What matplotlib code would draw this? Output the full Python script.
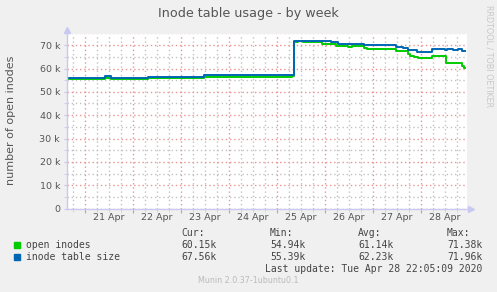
import pandas as pd
import numpy as np
import matplotlib
matplotlib.use('Agg')
import matplotlib.pyplot as plt
import matplotlib.dates as mdates
from matplotlib.ticker import MultipleLocator, FuncFormatter

# step changes
open_times = ['2020-04-20 14:30', '2020-04-21 10:00', '2020-04-21 13:00', '2020-04-22 07:30',
              '2020-04-23 11:30', '2020-04-25 07:30', '2020-04-25 08:30', '2020-04-25 10:20',
              '2020-04-25 12:50', '2020-04-25 22:30', '2020-04-26 02:10', '2020-04-26 05:30',
              '2020-04-26 11:20', '2020-04-26 13:10', '2020-04-26 19:10', '2020-04-26 20:50',
              '2020-04-27 07:20', '2020-04-27 08:10', '2020-04-27 11:30', '2020-04-27 17:20',
              '2020-04-27 18:10', '2020-04-27 20:20', '2020-04-27 22:20', '2020-04-28 05:20',
              '2020-04-28 10:50', '2020-04-28 12:30', '2020-04-28 20:20', '2020-04-28 21:20',
              '2020-04-28 22:00']
open_vals = [55.6, 56.1, 55.6, 55.9,
             56.5, 57.0, 71.2, 71.7,
             71.3, 70.7, 70.3, 69.8,
             69.3, 69.7, 68.6, 68.2,
             68.5, 68.2, 67.4, 66.1,
             65.4, 64.9, 64.3, 65.4,
             65.15, 62.15, 61.1, 60.15,
             60.15]

size_times = ['2020-04-20 14:30', '2020-04-21 10:00', '2020-04-21 13:00', '2020-04-22 07:30',
              '2020-04-23 11:30', '2020-04-25 07:30', '2020-04-25 08:30', '2020-04-25 22:30',
              '2020-04-26 03:00', '2020-04-26 06:20', '2020-04-26 12:10', '2020-04-26 13:10',
              '2020-04-26 19:10', '2020-04-27 11:30', '2020-04-27 14:50', '2020-04-27 17:20',
              '2020-04-27 21:50', '2020-04-28 05:20', '2020-04-28 11:40', '2020-04-28 13:00',
              '2020-04-28 15:50', '2020-04-28 18:20', '2020-04-28 20:20', '2020-04-28 22:00']
size_vals = [56.1, 56.6, 56.1, 56.4,
             57.1, 57.1, 72.0, 71.6,
             71.15, 70.7, 70.4, 70.7,
             69.9, 69.1, 68.8, 67.85,
             67.1, 68.15, 67.85, 68.15,
             67.85, 68.15, 67.6, 67.56]

day_labels = ['21 Apr', '22 Apr', '23 Apr', '24 Apr', '25 Apr', '26 Apr', '27 Apr', '28 Apr']

legend_rows = [('open inodes', '#00CC00', '60.15k', '54.94k', '61.14k', '71.38k'),
               ('inode table size', '#0066B3', '67.56k', '55.39k', '62.23k', '71.96k')]

t_open = pd.to_datetime(open_times)
t_size = pd.to_datetime(size_times)
start = pd.Timestamp('2020-04-20 14:55')
end = pd.Timestamp('2020-04-28 22:55')

bg = '#F0F0F0'
txt = '#555555'

fig = plt.figure(figsize=(4.97, 2.92), dpi=100, facecolor=bg)
ax = fig.add_axes([67/497, 1-208.5/292, 400/497, 175/292])
ax.set_facecolor('white')

ax.plot(t_open, np.array(open_vals)*1000, drawstyle='steps-post', color='#00CC00', lw=1.4)
ax.plot(t_size, np.array(size_vals)*1000, drawstyle='steps-post', color='#0066B3', lw=1.4)

ax.set_xlim(start, end)
ax.set_ylim(0, 75000)

ax.xaxis.set_major_locator(mdates.DayLocator())
ax.xaxis.set_minor_locator(mdates.HourLocator(byhour=[6, 12, 18]))
ax.xaxis.set_major_formatter(plt.NullFormatter())
ax.yaxis.set_major_locator(MultipleLocator(10000))
ax.yaxis.set_minor_locator(MultipleLocator(5000))
ax.yaxis.set_major_formatter(FuncFormatter(lambda v, p: '0' if v == 0 else '%d k' % (v/1000)))

ax.grid(which='major', color='#E69494', linestyle=(0, (1, 2)), lw=1)
ax.grid(which='minor', color='#C2C2C2', linestyle=(0, (1, 2)), lw=1)
ax.set_axisbelow(True)

for s in ['top', 'right']:
    ax.spines[s].set_visible(False)
for s in ['left', 'bottom']:
    ax.spines[s].set_color('#C8C8F0')
    ax.spines[s].set_linewidth(1)
ax.tick_params(which='both', length=2, color='#C8C8F0', labelsize=6.8, labelcolor=txt, pad=3)
ax.tick_params(axis='x', which='major', length=3, color='#E69494')

# arrows at the axis ends
ax.plot([0], [1.02], marker='^', ms=4, color='#C8C8F0', transform=ax.transAxes, clip_on=False)
ax.plot([1.01], [0], marker='>', ms=4, color='#C8C8F0', transform=ax.transAxes, clip_on=False)

# day labels at noon between the day lines
for i, lab in enumerate(day_labels):
    x = mdates.date2num(pd.Timestamp('2020-04-21 12:00') + pd.Timedelta(days=i))
    ax.text(x, -0.05, lab, transform=ax.get_xaxis_transform(), ha='center', va='center',
            fontsize=6.8, color=txt)

fig.text(0.5, 1-14/292, 'Inode table usage - by week', ha='center', va='center', fontsize=9.2, color=txt)
fig.text(11/497, 1-120/292, 'number of open inodes', rotation=90, ha='center', va='center',
         fontsize=8, color=txt)
fig.text(489/497, 1-5/292, 'RRDTOOL / TOBI OETIKER', rotation=270, ha='center', va='top',
         fontsize=5.8, color='#C8C8C8')

mono = 'DejaVu Sans Mono'
lc = '#444444'
cols = [181.7, 270, 358]
for x, h in zip(cols + [446.7], ['Cur:', 'Min:', 'Avg:', 'Max:']):
    fig.text(x/497, 1-232.7/292, h, family=mono, fontsize=7, color=lc, va='center')
for r, (name, c, cur, mn, avg, mx) in enumerate(legend_rows):
    y = 1-(244.5+12.3*r)/292
    fig.patches.append(plt.Rectangle((14/497, y-3/292), 6/497, 6/292, color=c,
                                     transform=fig.transFigure, figure=fig))
    fig.text(26.5/497, y, name, family=mono, fontsize=7, color=lc, va='center')
    for x, v in zip(cols, [cur, mn, avg]):
        fig.text(x/497, y, v, family=mono, fontsize=7, color=lc, va='center')
    fig.text(482.7/497, y, mx, family=mono, fontsize=7, color=lc, va='center', ha='right')
fig.text(482.7/497, 1-268.7/292, 'Last update: Tue Apr 28 22:05:09 2020', family=mono,
         fontsize=7, color=lc, va='center', ha='right')
fig.text(248/497, 1-280.7/292, 'Munin 2.0.37-1ubuntu0.1', fontsize=5.8, color='#BBBBBB',
         ha='center', va='center')

fig.savefig('out.png', dpi=100, facecolor=bg)
